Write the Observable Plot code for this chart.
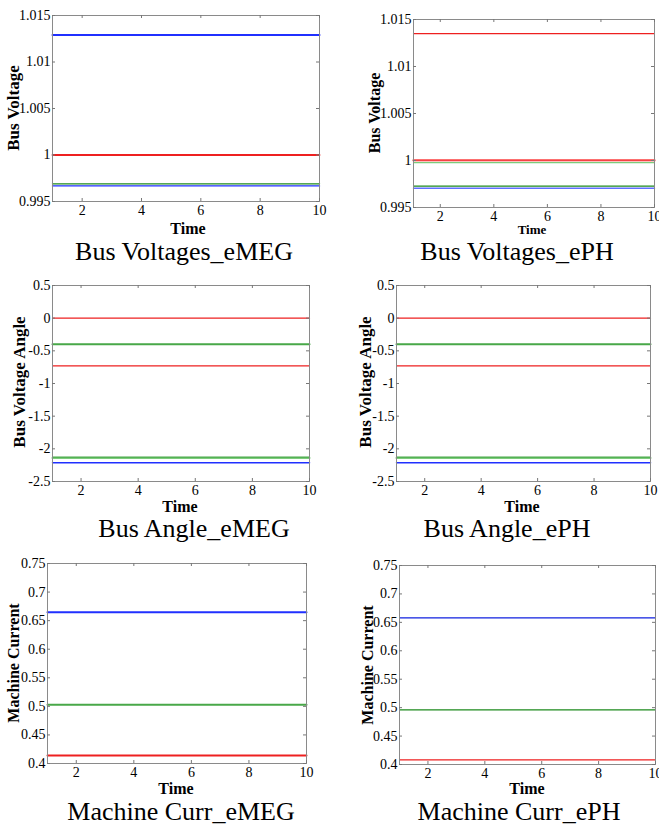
<!DOCTYPE html>
<html>
<head>
<meta charset="utf-8">
<script src="https://cdn.jsdelivr.net/npm/d3@7"></script>
<script src="https://cdn.jsdelivr.net/npm/@observablehq/plot@0.6"></script>
<style>
  html, body { margin: 0; padding: 0; background: #fff; overflow: hidden; }
  #page { position: relative; width: 659px; height: 825px; overflow: hidden; font-family: "Liberation Serif", "Times New Roman", serif; }
  .plot { position: absolute; }
  svg.plot text { font-family: "Liberation Serif", "Times New Roman", serif !important; }
  .lab { position: absolute; white-space: nowrap; color: #000; transform: translate(-50%, -50%); font-family: "Liberation Serif", serif; }
  .ylab { font-weight: bold; transform: translate(-50%, -50%) rotate(-90deg); }
  .time { font-weight: bold; }
  .title { font-size: 26px; }
</style>
</head>
<body>
<div id="page"></div>
<script>
// ---------- data ----------
const times = [1, 10];
const timeTicks = [2, 4, 6, 8, 10];

const voltTicks = [0.995, 1, 1.005, 1.01, 1.015];
const angleTicks = [-2.5, -2, -1.5, -1, -0.5, 0, 0.5];
const currTicks = [0.4, 0.45, 0.5, 0.55, 0.6, 0.65, 0.7, 0.75];

// Bus Voltages_eMEG
const voltMEG_blue1 = [1.0129, 1.0129];
const voltMEG_red = [1.0000, 1.0000];
const voltMEG_green = [0.99690, 0.99690];
const voltMEG_blue2 = [0.99668, 0.99668];

// Bus Voltages_ePH
const voltPH_red1 = [1.0135, 1.0135];
const voltPH_pink = [1.00002, 1.00002];
const voltPH_lgreen = [0.99978, 0.99978];
const voltPH_dgreen = [0.99728, 0.99728];
const voltPH_blue = [0.99705, 0.99705];

// Bus Angle_eMEG
const angMEG_red1 = [0, 0];
const angMEG_green1 = [-0.40, -0.40];
const angMEG_red2 = [-0.73, -0.73];
const angMEG_lgreen = [-2.14, -2.14];
const angMEG_green2 = [-2.128, -2.128];
const angMEG_blue = [-2.214, -2.214];

// Bus Angle_ePH
const angPH_red1 = [0, 0];
const angPH_green1 = [-0.40, -0.40];
const angPH_red2 = [-0.73, -0.73];
const angPH_lgreen = [-2.14, -2.14];
const angPH_green2 = [-2.128, -2.128];
const angPH_blue = [-2.214, -2.214];

// Machine Curr_eMEG
const currMEG_blue = [0.6645, 0.6645];
const currMEG_green = [0.503, 0.503];
const currMEG_red = [0.414, 0.414];

// Machine Curr_ePH
const currPH_blue = [0.658, 0.658];
const currPH_green = [0.496, 0.496];
const currPH_red = [0.408, 0.408];

// ---------- styles ----------
const C = {
  blue: "#2030ff", red: "#ee2020", green: "#1e8a1e", lgreen: "#7ccc7c", pink: "#ff8080", lblue: "#6070ff", mgreen: "#48a848"
};

const panels = [
  { title: "Bus Voltages_eMEG", ylabel: "Bus Voltage", yDomain: [0.995, 1.015], yTicks: voltTicks,
    series: [[voltMEG_blue1, C.blue, 2], [voltMEG_red, C.red, 1.8], [voltMEG_green, C.green, 1.4], [voltMEG_blue2, C.blue, 1.4]],
    frame: [52, 319, 15, 201], ylab: [14, 108, 17], time: [188, 229, 16], ttl: [184, 252] },
  { title: "Bus Voltages_ePH", ylabel: "Bus Voltage", yDomain: [0.995, 1.015], yTicks: voltTicks,
    series: [[voltPH_red1, C.red, 1.2], [voltPH_pink, C.pink, 2.4], [voltPH_pink, C.red, 0.8], [voltPH_lgreen, C.lgreen, 1.2], [voltPH_dgreen, C.green, 1.2], [voltPH_blue, C.lblue, 1.4]],
    frame: [413, 654, 19, 207], ylab: [375, 113, 16], time: [532, 230, 13], ttl: [517, 252] },
  { title: "Bus Angle_eMEG", ylabel: "Bus Voltage Angle", yDomain: [-2.5, 0.5], yTicks: angleTicks,
    series: [[angMEG_red1, C.red, 1.2], [angMEG_green1, C.mgreen, 2], [angMEG_red2, C.red, 1.2], [angMEG_lgreen, C.lgreen, 2], [angMEG_green2, C.mgreen, 1.2], [angMEG_blue, C.blue, 1.5]],
    frame: [52, 309, 285, 481], ylab: [20, 382, 17], time: [180, 507, 16], ttl: [194, 529] },
  { title: "Bus Angle_ePH", ylabel: "Bus Voltage Angle", yDomain: [-2.5, 0.5], yTicks: angleTicks,
    series: [[angPH_red1, C.red, 1.2], [angPH_green1, C.mgreen, 2], [angPH_red2, C.red, 1.2], [angPH_lgreen, C.lgreen, 2], [angPH_green2, C.mgreen, 1.2], [angPH_blue, C.blue, 1.5]],
    frame: [396, 650, 285, 481], ylab: [366, 382, 17], time: [522, 507, 16], ttl: [507, 529] },
  { title: "Machine Curr_eMEG", ylabel: "Machine Current", yDomain: [0.4, 0.75], yTicks: currTicks,
    series: [[currMEG_blue, C.blue, 2], [currMEG_green, C.mgreen, 2], [currMEG_red, C.red, 2]],
    frame: [47, 306, 563, 763], ylab: [14, 663, 16], time: [176, 789, 16], ttl: [181, 812] },
  { title: "Machine Curr_ePH", ylabel: "Machine Current", yDomain: [0.4, 0.75], yTicks: currTicks,
    series: [[currPH_blue, "#1020e0", 1.2], [currPH_green, C.green, 1.2], [currPH_red, C.red, 1.2]],
    frame: [399, 655, 565, 764], ylab: [368, 665, 16], time: [527, 789, 16], ttl: [519, 812] }
];

const page = document.getElementById("page");
const ML = 56, MT = 14, MR = 8, MB = 26;
const TICK = 3;

function fmt(d) { return String(+d.toFixed(3)); }

for (const p of panels) {
  const [x0, x1, y0, y1] = p.frame;
  const fw = x1 - x0, fh = y1 - y0;
  const w = fw + ML + MR, h = fh + MT + MB;
  const lineMarks = p.series.map(([vals, color, sw]) =>
    Plot.line(vals.map((v, j) => ({ t: times[j], v })), { x: "t", y: "v", stroke: color, strokeWidth: sw }));
  const chart = Plot.plot({
    width: w, height: h,
    marginLeft: ML, marginRight: MR, marginTop: MT, marginBottom: MB,
    style: { fontFamily: "'Liberation Serif', 'Times New Roman', serif", fontSize: "14px", color: "#000", background: "transparent", overflow: "visible" },
    x: { domain: [1, 10], ticks: timeTicks },
    y: { domain: p.yDomain, ticks: p.yTicks },
    marks: [
      ...lineMarks,
      Plot.frame({ stroke: "#8a8a8a", strokeWidth: 1 }),
      // inward tick marks on all four sides
      Plot.tickX(timeTicks, { x: d => d, insetTop: fh - TICK, stroke: "#777" }),
      Plot.tickX(timeTicks, { x: d => d, insetBottom: fh - TICK, stroke: "#777" }),
      Plot.tickY(p.yTicks, { y: d => d, insetRight: fw - TICK, stroke: "#777" }),
      Plot.tickY(p.yTicks, { y: d => d, insetLeft: fw - TICK, stroke: "#777" }),
      // tick labels
      Plot.axisX(timeTicks, { anchor: "bottom", tickSize: 0, tickPadding: 4, label: null, fill: "#000", fontSize: 14, fontFamily: "Liberation Serif" }),
      Plot.axisY(p.yTicks, { anchor: "left", tickSize: 0, tickPadding: 2, tickFormat: fmt, label: null, fill: "#000", fontSize: 14, fontFamily: "Liberation Serif" })
    ]
  });
  chart.classList.add("plot");
  chart.style.left = (x0 - ML) + "px";
  chart.style.top = (y0 - MT) + "px";
  page.appendChild(chart);

  const yl = document.createElement("div");
  yl.className = "lab ylab";
  yl.textContent = p.ylabel;
  yl.style.left = p.ylab[0] + "px"; yl.style.top = p.ylab[1] + "px"; yl.style.fontSize = p.ylab[2] + "px";
  page.appendChild(yl);

  const tl = document.createElement("div");
  tl.className = "lab time";
  tl.textContent = "Time";
  tl.style.left = p.time[0] + "px"; tl.style.top = p.time[1] + "px"; tl.style.fontSize = p.time[2] + "px";
  page.appendChild(tl);

  const tt = document.createElement("div");
  tt.className = "lab title";
  tt.textContent = p.title;
  tt.style.left = p.ttl[0] + "px"; tt.style.top = p.ttl[1] + "px";
  page.appendChild(tt);
}
</script>
</body>
</html>
